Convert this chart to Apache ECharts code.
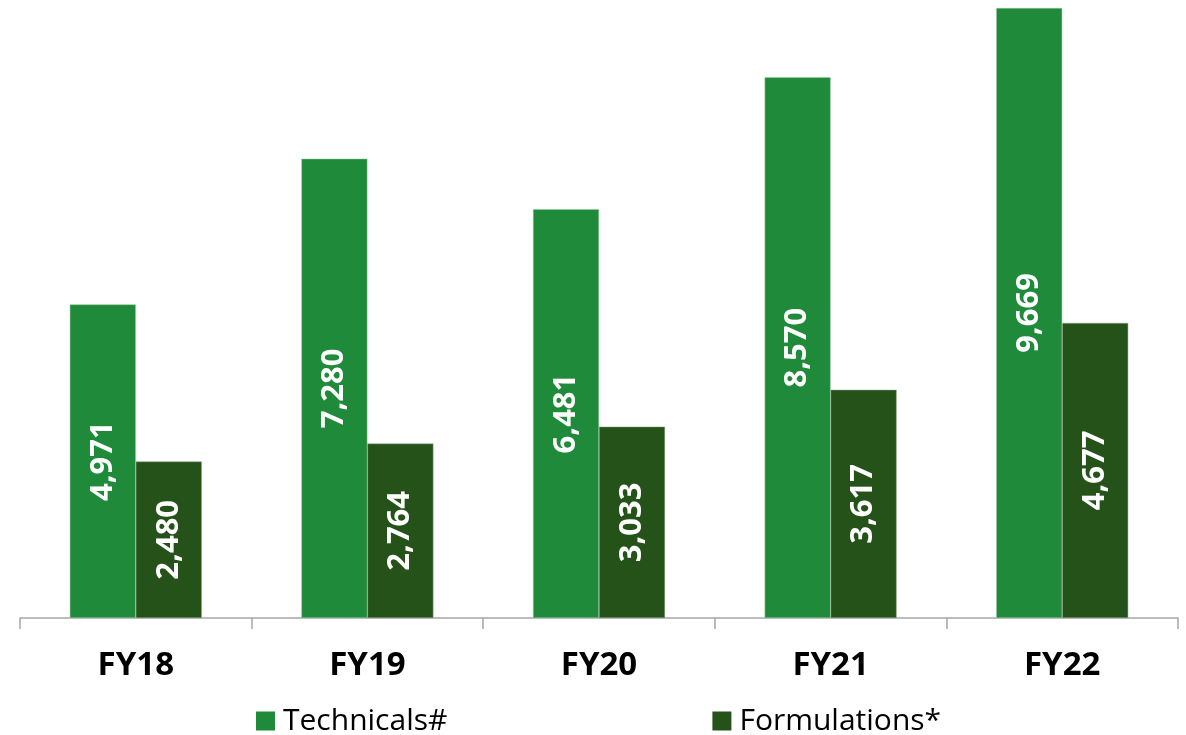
<!DOCTYPE html>
<html>
<head>
<meta charset="utf-8">
<script src="https://cdn.jsdelivr.net/npm/echarts@6/dist/echarts.min.js"></script>
<style>
  html, body { margin: 0; padding: 0; background: #fff; }
  #chart { width: 1186px; height: 735px; }
</style>
</head>
<body>
<div id="chart"></div>
<script>
const years = ['FY18', 'FY19', 'FY20', 'FY21', 'FY22'];
const technicals = [4971, 7280, 6481, 8570, 9669];
const formulations = [2480, 2764, 3033, 3617, 4677];

const chart = echarts.init(document.getElementById('chart'));

const labelStyle = {
  show: true,
  position: 'inside',
  rotate: 90,
  color: '#fff',
  fontWeight: 'bold',
  fontSize: 31,
  fontFamily: 'Open Sans',
  formatter: p => p.value.toLocaleString('en-US')
};

chart.setOption({
  animation: false,
  textStyle: { fontFamily: 'Open Sans' },
  grid: { left: 20, right: 8, top: 8, bottom: 117 },
  legend: {
    bottom: -6,
    left: 251,
    itemWidth: 19,
    itemHeight: 19,
    itemGap: 265,
    icon: 'rect',
    itemStyle: { borderWidth: 0 },
    textStyle: { fontSize: 30, color: '#000', fontFamily: 'Open Sans', padding: [0, 0, 0, 3] },
    data: ['Technicals#', 'Formulations*']
  },
  xAxis: {
    type: 'category',
    data: years,
    axisLine: { lineStyle: { color: '#a6a6a6', width: 1.5 } },
    axisTick: { show: true, length: 11, lineStyle: { color: '#a6a6a6', width: 1.5 } },
    axisLabel: { fontSize: 33, fontWeight: 'bold', color: '#000', margin: 31 }
  },
  yAxis: {
    type: 'value',
    min: 0,
    max: 9669,
    show: false,
    splitLine: { show: false }
  },
  series: [
    {
      name: 'Technicals#',
      type: 'bar',
      data: technicals,
      barWidth: 66,
      barGap: '0%',
      itemStyle: { color: '#1f8a3a', borderColor: '#9ccaa6', borderWidth: 0.5 },
      label: labelStyle
    },
    {
      name: 'Formulations*',
      type: 'bar',
      data: formulations,
      barWidth: 66,
      itemStyle: { color: '#245219', borderColor: '#8fa98a', borderWidth: 0.5 },
      label: labelStyle
    }
  ]
});
</script>
</body>
</html>
